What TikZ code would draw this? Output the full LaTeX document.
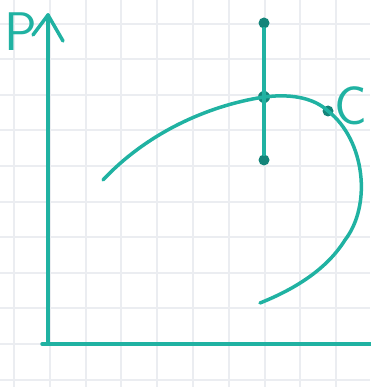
\documentclass[tikz,border=0pt]{standalone}
\usepackage{fontspec}
\usepackage{tikz}
\usetikzlibrary{arrows.meta,positioning,calc}
\definecolor{penTeal}{HTML}{20B2A2}
\definecolor{dotTeal}{HTML}{14857A}
\definecolor{gridGray}{HTML}{EBEDF1}
\begin{document}
\begin{tikzpicture}[x=1pt, y=-1pt, font=\sffamily,
  pen/.style={penTeal, line width=3.5pt, line cap=round, line join=round},
  dotmark/.style={circle, fill=dotTeal, inner sep=0pt, minimum size=11pt},
  lbl/.style={penTeal, inner sep=0pt, font=\sffamily\fontsize{34}{34}\selectfont}]
\useasboundingbox (0,0) rectangle (370,387);
% --- paper grid ---
\foreach \k in {0,...,9}
  \draw[gridGray, line width=2pt] ({14+\k*35.8},0) -- ({14+\k*35.8},387);
\foreach \k in {-1,...,9}
  \draw[gridGray, line width=2pt] (0,{344-\k*35.6}) -- (370,{344-\k*35.6});
% --- axes ---
\coordinate (origin) at (48,344);
\coordinate (ytop) at (48,15);
\coordinate (xend) at (372,344);
\coordinate (xstart) at (42,344);
\draw[pen] (origin) -- (ytop);
\draw[pen] ($(ytop)+(-15,20)$) -- (ytop) -- ($(ytop)+(15,26)$);
\draw[pen] (xstart) -- (xend);
\node[lbl, scale=1.6] (plabel) at (21,32) {P};
% --- points ---
\node[dotmark] (top) at (264,23) {};
\node[dotmark, minimum size=12pt] (mid) at (264,97) {};
\node[dotmark] (bot) at (264,160) {};
\node[dotmark] (cpt) at (328,111) {};
\node[lbl, scale=1.6] (clabel) at (351,106) {C};
% --- curve ---
\coordinate (cstart) at (103,180);
\coordinate (cend) at (260,303);
\draw[pen] (top) -- (bot);
\draw[pen] (cstart) .. controls (145,135) and (205,106) .. (mid.center)
  .. controls (296,93) and (316,100) .. (cpt.center)
  .. controls (365,140) and (372,205) .. (345,240)
  .. controls (325,272) and (290,291) .. (cend);
\end{tikzpicture}
\end{document}
